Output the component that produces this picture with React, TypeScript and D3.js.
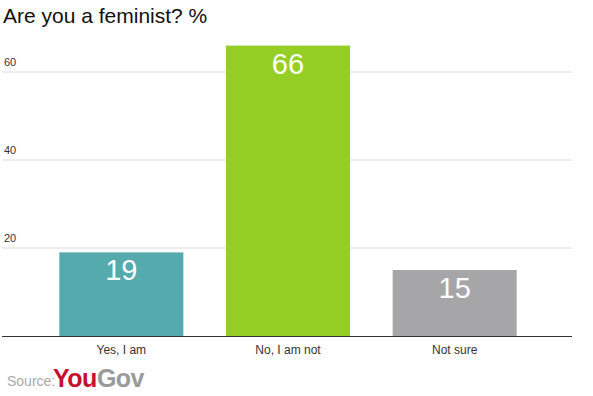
import { scaleBand, scaleLinear } from "d3";

const categories = ["Yes, I am", "No, I am not", "Not sure"];
const values = [19, 66, 15];
const colors = ["#55aaad", "#95cf25", "#a6a6a8"];
const yTicks = [20, 40, 60];

export default function App() {
  const width = 593;
  const height = 396;
  const baseline = 336;

  const x = scaleBand<string>()
    .domain(categories)
    .range([38, 538])
    .paddingInner(0.256)
    .paddingOuter(0.128);
  const y = scaleLinear().domain([0, 60]).range([baseline, 72]);

  return (
    <svg
      width={width}
      height={height}
      style={{ position: "absolute", left: 0, top: 0, fontFamily: "'Liberation Sans', Arial, sans-serif" }}
    >
      <rect width={width} height={height} fill="#fff" />
      <text x={3} y={23} fontSize={21} fill="#111">
        Are you a feminist? %
      </text>

      {/* gridlines */}
      {yTicks.map((t) => (
        <g key={t}>
          <line x1={2} x2={572} y1={y(t)} y2={y(t)} stroke="#dcdcdc" strokeWidth={1} />
          <text x={4} y={y(t) - 6} fontSize={11} fill="#333">
            {t}
          </text>
        </g>
      ))}

      {/* bars */}
      {categories.map((c, i) => (
        <g key={c}>
          <rect
            x={x(c)}
            y={y(values[i])}
            width={x.bandwidth()}
            height={baseline - y(values[i])}
            fill={colors[i]}
          />
          <text
            x={x(c)! + x.bandwidth() / 2}
            y={y(values[i]) + 28}
            fontSize={29}
            fill="#fff"
            textAnchor="middle"
          >
            {values[i]}
          </text>
          <text
            x={x(c)! + x.bandwidth() / 2}
            y={baseline + 18}
            fontSize={12}
            fill="#333"
            textAnchor="middle"
          >
            {c}
          </text>
        </g>
      ))}

      <line x1={2} x2={572} y1={baseline + 0.5} y2={baseline + 0.5} stroke="#333" strokeWidth={1} />

      {/* source */}
      <text x={7} y={386} fontSize={14} fill="#aaa">
        Source:
      </text>
      <text x={53} y={387} fontSize={25} fontWeight="bold" letterSpacing={-0.5}>
        <tspan fill="#c8102e">You</tspan>
        <tspan fill="#9a9a9a">Gov</tspan>
      </text>
    </svg>
  );
}
